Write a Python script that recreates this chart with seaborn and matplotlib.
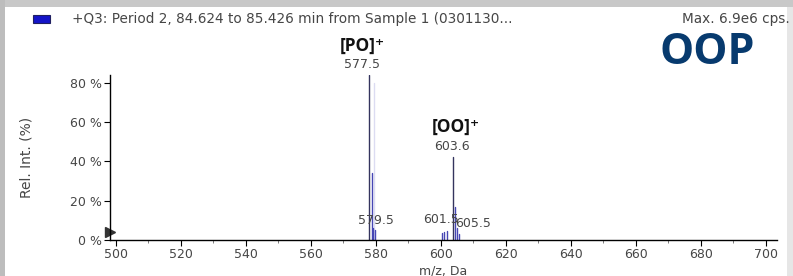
import matplotlib
matplotlib.use('Agg')
import matplotlib.pyplot as plt
from matplotlib.patches import Rectangle
from matplotlib.ticker import MultipleLocator, FuncFormatter
import seaborn as sns
import pandas as pd

# ================================================ DATA ===============================================================

peak_mz = [577.9, 578.7, 579.2, 579.6, 579.4, 600.2, 601.0, 601.8, 603.6, 604.3, 604.9, 605.6]
peak_int = [84.0, 34.0, 6.0, 5.0, 80.0, 3.5, 4.0, 4.5, 42.0, 17.0, 6.0, 3.0]
peak_kind = ['main', 'iso', 'iso', 'iso', 'ghost', 'iso', 'iso', 'iso', 'main', 'iso', 'iso', 'iso']

label_text = ['577.5', '579.5', '601.5', '605.5', '603.6']
label_mz = [575.7, 580.0, 600.0, 609.8, 603.3]
label_int = [89.5, 10.0, 10.5, 8.6, 47.5]

ion_text = ['[PO]\u207a', '[OO]\u207a']
ion_mz = [575.8, 604.7]
ion_int = [99.0, 57.5]

x_ticks = list(range(500, 701, 20))
y_ticks = [0, 20, 40, 60, 80]

TITLE = '+Q3: Period 2, 84.624 to 85.426 min from Sample 1 (0301130...'
MAX_TEXT = 'Max. 6.9e6 cps.'
GRAY = '#464646'

# ================================================ STICK TABLE ========================================================

rows = []
for i, (mz, h, kind) in enumerate(zip(peak_mz, peak_int, peak_kind)):
    rows.append({'peak': i, 'mz': mz, 'rel': 0.0, 'kind': kind})
    rows.append({'peak': i, 'mz': mz, 'rel': h, 'kind': kind})
sticks = pd.DataFrame(rows)

# ================================================ FIGURE =============================================================

sns.set_theme(style='white')
plt.rcParams['font.family'] = ['DejaVu Sans']

fig = plt.figure(figsize=(7.93, 2.76), dpi=100)
ax = fig.add_axes([0.1387, 0.1304, 0.841, 0.598])

sns.lineplot(data=sticks, x='mz', y='rel', units='peak', estimator=None, sort=False,
             hue='kind', hue_order=['ghost', 'iso', 'main'],
             palette={'main': '#34345e', 'iso': '#4646b4', 'ghost': '#dcdcf2'},
             linewidth=1.0, legend=False, ax=ax)

ax.set_xlim(498.15, 703.4)
ax.set_ylim(0, 84)
ax.set_xticks(x_ticks)
ax.xaxis.set_minor_locator(MultipleLocator(10))
ax.set_yticks(y_ticks)
ax.yaxis.set_major_formatter(FuncFormatter(lambda v, p: f'{v:.0f} %'))

for side in ['top', 'right']:
    ax.spines[side].set_visible(False)
for side in ['left', 'bottom']:
    ax.spines[side].set_color('black')
    ax.spines[side].set_linewidth(1.0)

ax.tick_params(axis='both', which='major', direction='out', length=4, width=0.8, color='black',
               labelsize=9, labelcolor=GRAY, pad=2, bottom=True, left=True)
ax.tick_params(axis='x', which='minor', direction='out', length=2, width=0.6, color='#666666', bottom=True)

ax.set_xlabel('m/z, Da', fontsize=9, color=GRAY, labelpad=2)
ax.set_ylabel('Rel. Int. (%)', fontsize=10, color=GRAY, labelpad=26)

# peak labels
for t, x, y in zip(label_text, label_mz, label_int):
    ax.text(x, y, t, ha='center', va='center', fontsize=9, color=GRAY, clip_on=False)

for t, x, y in zip(ion_text, ion_mz, ion_int):
    ax.text(x, y, t, ha='center', va='center', fontsize=12.5, fontweight='bold',
            family=['Open Sans', 'DejaVu Sans'], color='#111111', clip_on=False)

# threshold marker at the origin
ax.plot([0.0], [0.05], marker='>', markersize=7, color='#333333', transform=ax.transAxes, clip_on=False)

# header row
fig.add_artist(Rectangle((33 / 793, 1 - 23 / 276), 17 / 793, 8 / 276, transform=fig.transFigure,
                         facecolor='#1414c8', edgecolor='#202060', linewidth=0.8))
fig.text(72 / 793, 1 - 19 / 276, TITLE, ha='left', va='center', fontsize=9.8, color=GRAY)
fig.text(790 / 793, 1 - 19 / 276, MAX_TEXT, ha='right', va='center', fontsize=9.8, color=GRAY)
fig.text(707 / 793, 1 - 52 / 276, 'OOP', ha='center', va='center', fontsize=31, fontweight='bold',
         family=['Open Sans', 'DejaVu Sans'], color='#073a6e')

# window frame
fig.add_artist(Rectangle((0, 1 - 7 / 276), 1, 7 / 276, transform=fig.transFigure,
                         facecolor='#c8c8c8', edgecolor='none'))
fig.add_artist(Rectangle((0, 0), 5 / 793, 1, transform=fig.transFigure,
                         facecolor='#bdbdbd', edgecolor='none'))
fig.add_artist(Rectangle((787 / 793, 0), 6 / 793, 1 - 7 / 276, transform=fig.transFigure,
                         facecolor='#e6e6e6', edgecolor='none'))

fig.savefig('out.png', dpi=100)
plt.close(fig)
